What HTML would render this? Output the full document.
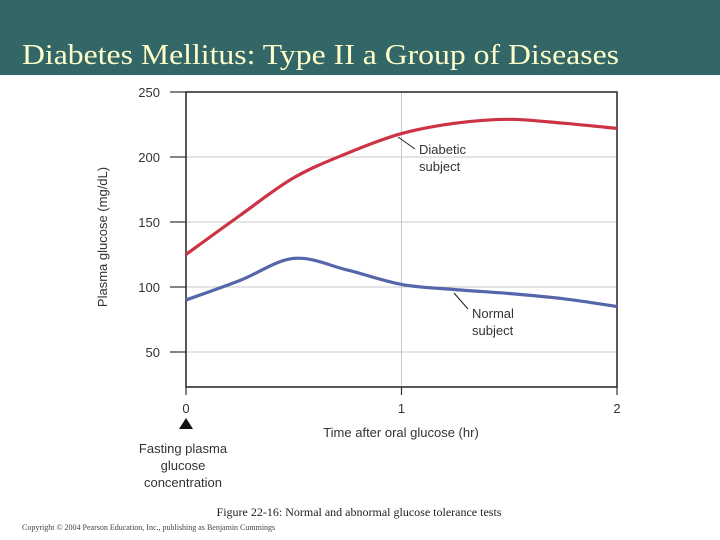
<!DOCTYPE html>
<html><head><meta charset="utf-8"><style>
body{margin:0;width:720px;height:540px;background:#fff;overflow:hidden;font-family:"Liberation Sans",sans-serif}
#hdr{position:absolute;left:0;top:0;width:720px;height:75px;background:#336666}
</style></head><body>
<div id="hdr"></div>
<svg id="c" width="720" height="540" style="position:absolute;left:0;top:0">
<text x="22" y="64" font-family="Liberation Serif, serif" font-size="29" fill="#ffffcc" textLength="597" lengthAdjust="spacingAndGlyphs">Diabetes Mellitus: Type II a Group of Diseases</text>
</svg>
<script>
const xTicks=[0,1,2];
const yTicks=[50,100,150,200,250];
const times=[0,0.25,0.5,0.75,1,1.25,1.5,1.75,2];
const diabetic=[125,155,184,203,218,226,229,226,222];
const normal=[90,105,122,113,102,98,95,91,85];
const X=t=>186+t*215.5;
const Y=v=>92+(250-v)*1.3;
const svg=document.getElementById('c');
const NS='http://www.w3.org/2000/svg';
function mk(tag,attrs,txt){const e=document.createElementNS(NS,tag);for(const k in attrs)e.setAttribute(k,attrs[k]);if(txt!==undefined)e.textContent=txt;svg.appendChild(e);return e;}
yTicks.forEach(v=>{
 if(v<250){const g=mk('line',{x1:186,x2:617,y1:Y(v),y2:Y(v),stroke:'#c8c8c8','stroke-width':1});
 
 }
 const t=mk('line',{x1:170,x2:186,y1:Y(v),y2:Y(v),stroke:'#333','stroke-width':1.2});
 
 
 const l=mk('text',{x:160,y:Y(v)+5,'text-anchor':'end','font-size':13,fill:'#333'},v);
 
 
});
const vg=mk('line',{x1:X(1),x2:X(1),y1:92,y2:387,stroke:'#c8c8c8','stroke-width':1});


const fr=mk('path',{d:`M186 92 H617 V387 H186 Z`,fill:'none',stroke:'#222','stroke-width':1.5});


xTicks.forEach(t=>{
 const k=mk('line',{x1:X(t),x2:X(t),y1:387,y2:395,stroke:'#333','stroke-width':1.2});
 
 
 const l=mk('text',{x:X(t),y:413,'text-anchor':'middle','font-size':13,fill:'#333'},t);
 
 
});
function curve(vals){
 const p=times.map((t,i)=>[X(t),Y(vals[i])]);
 let d=`M${p[0][0]} ${p[0][1]}`;
 for(let i=0;i<p.length-1;i++){
  const p0=p[i-1]||p[i],p1=p[i],p2=p[i+1],p3=p[i+2]||p2;
  d+=` C${p1[0]+(p2[0]-p0[0])/6} ${p1[1]+(p2[1]-p0[1])/6} ${p2[0]-(p3[0]-p1[0])/6} ${p2[1]-(p3[1]-p1[1])/6} ${p2[0]} ${p2[1]}`;
 }
 return d;
}
const dl=mk('path',{d:curve(diabetic),fill:'none',stroke:'#cc3344','stroke-width':3.2});


const nl=mk('path',{d:curve(normal),fill:'none',stroke:'#5566aa','stroke-width':3.2});


const a1=mk('line',{x1:398,y1:137,x2:415,y2:149,stroke:'#222','stroke-width':1});


const t1=mk('text',{x:419,y:154,'font-size':13,fill:'#333'},'Diabetic');


const t1b=mk('text',{x:419,y:171,'font-size':13,fill:'#333'},'subject');


const a2=mk('line',{x1:454,y1:293,x2:468,y2:309,stroke:'#222','stroke-width':1});


const t2=mk('text',{x:472,y:318,'font-size':13,fill:'#333'},'Normal');


const t2b=mk('text',{x:472,y:335,'font-size':13,fill:'#333'},'subject');


const yt=mk('text',{x:0,y:0,'font-size':13,fill:'#333','text-anchor':'middle',transform:'translate(107 237) rotate(-90)'},'Plasma glucose (mg/dL)');


const xt=mk('text',{x:401,y:437,'font-size':13,fill:'#333','text-anchor':'middle'},'Time after oral glucose (hr)');


const tri=mk('path',{d:'M186 418 L193 429 L179 429 Z',fill:'#111'});


['Fasting plasma','glucose','concentration'].forEach((s,i)=>{
 const e=mk('text',{x:183,y:453+i*17,'font-size':13,fill:'#333','text-anchor':'middle'},s);
 
 
});
const cap=mk('text',{x:359,y:516,'font-size':12,fill:'#222','font-family':'Liberation Serif, serif','text-anchor':'middle'},'Figure 22-16: Normal and abnormal glucose tolerance tests');


const cp=mk('text',{x:22,y:530,'font-size':8,fill:'#444','font-family':'Liberation Serif, serif'},'Copyright © 2004 Pearson Education, Inc., publishing as Benjamin Cummings');


</script>
</body></html>
